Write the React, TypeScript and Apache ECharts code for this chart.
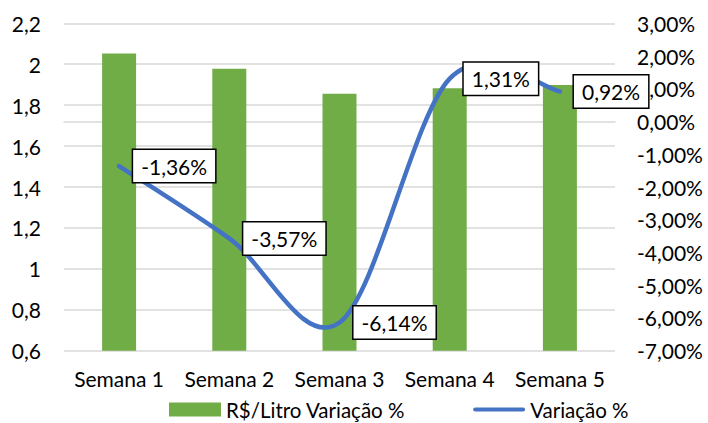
import React, { useEffect, useRef } from "react";
import * as echarts from "echarts";

const categories = ["Semana 1", "Semana 2", "Semana 3", "Semana 4", "Semana 5"];
const precoLitro = [2.053, 1.978, 1.856, 1.882, 1.898];
const variacao = [-1.36, -3.57, -6.14, 1.31, 0.92];
const seriesNames = ["R$/Litro Variação %", "Variação %"];

const FONT = "Lato";
const FS = 21;
const fmtLeft = (v: number) => String(parseFloat(v.toFixed(1))).replace(".", ",");
const fmtPct = (v: number) => v.toFixed(2).replace(".", ",") + "%";

const LINE_ICON =
  "path://M0,0 L0.01,0 L0.01,0.01 Z M2,4.8 L54,4.8 A2.2,2.2 0 0 1 54,9.2 L2,9.2 A2.2,2.2 0 0 1 2,4.8 Z M0,14 L0.01,14 L0.01,13.99 Z";

export default function App() {
  const ref = useRef<HTMLDivElement>(null);
  useEffect(() => {
    document.body.style.margin = "0";
    const chart = echarts.init(ref.current!, null, { renderer: "svg" });
    chart.setOption({
      animation: false,
      textStyle: { fontFamily: FONT },
      grid: { left: 64, right: 93, top: 23.3, bottom: 72.3, containLabel: false },
      legend: {
        left: 169,
        top: 399,
        padding: 0,
        itemWidth: 52,
        itemHeight: 14,
        itemGap: 68,
        textStyle: { fontFamily: FONT, fontSize: 20.5, color: "#000", lineHeight: 18 },
        data: [
          { name: seriesNames[0], icon: "rect" },
          { name: seriesNames[1], icon: LINE_ICON, itemStyle: { color: "#4472C4", borderWidth: 0 } },
        ],
      },
      xAxis: {
        type: "category",
        data: categories,
        axisLine: { show: true, lineStyle: { color: "#d9d9d9", width: 1.5 } },
        axisTick: { show: false },
        axisLabel: { color: "#000", fontSize: FS, fontFamily: FONT, margin: 17, interval: 0 },
      },
      yAxis: [
        {
          type: "value",
          min: 0.6,
          max: 2.2,
          interval: 0.2,
          axisLine: { show: false },
          axisTick: { show: false },
          splitLine: { lineStyle: { color: "#d9d9d9", width: 1.5 } },
          axisLabel: { color: "#000", fontSize: FS, fontFamily: FONT, margin: 23, formatter: fmtLeft },
        },
        {
          type: "value",
          min: -7,
          max: 3,
          interval: 1,
          axisLine: { show: false },
          axisTick: { show: false },
          splitLine: { show: false },
          axisLabel: { color: "#000", fontSize: FS, fontFamily: FONT, margin: 22, formatter: fmtPct },
        },
      ],
      series: [
        {
          name: seriesNames[0],
          type: "bar",
          data: precoLitro,
          barWidth: 34,
          itemStyle: { color: "#70AD47" },
        },
        {
          name: "curva",
          type: "custom",
          yAxisIndex: 1,
          data: variacao,
          z: 4,
          silent: true,
          renderItem: (params: any, api: any) => {
            if (params.dataIndex !== 0) return null;
            const p = variacao.map((v, i) => api.coord([i, v]));
            const n = p.length;
            const g = (i: number) => p[Math.max(0, Math.min(n - 1, i))];
            let d = `M${p[0][0]},${p[0][1]}`;
            for (let i = 0; i < n - 1; i++) {
              const a = g(i - 1), b = g(i), c = g(i + 1), e = g(i + 2);
              const c1x = b[0] + (c[0] - a[0]) / 6;
              const c1y = b[1] + (c[1] - a[1]) / 6;
              const c2x = c[0] - (e[0] - b[0]) / 6;
              const c2y = c[1] - (e[1] - b[1]) / 6;
              d += ` C${c1x},${c1y} ${c2x},${c2y} ${c[0]},${c[1]}`;
            }
            return {
              type: "path",
              shape: { pathData: d },
              style: { fill: "none", stroke: "#4472C4", lineWidth: 4.5, lineCap: "round", lineJoin: "round" },
            };
          },
        },
        {
          name: seriesNames[1],
          type: "line",
          yAxisIndex: 1,
          data: variacao,
          symbol: "circle",
          symbolSize: 0.1,
          z: 6,
          lineStyle: { width: 0, opacity: 0 },
          itemStyle: { color: "#4472C4" },
          label: {
            show: true,
            position: "right",
            distance: 14,
            formatter: (p: any) => fmtPct(p.value),
            color: "#000",
            fontFamily: FONT,
            fontSize: FS,
            backgroundColor: "#fff",
            borderColor: "#000",
            borderWidth: 1.5,
            padding: [6, 8, 5, 8],
          },
        },
      ],
    });
    return () => chart.dispose();
  }, []);
  return <div ref={ref} style={{ position: "absolute", left: 0, top: 0, width: 708, height: 423 }} />;
}
